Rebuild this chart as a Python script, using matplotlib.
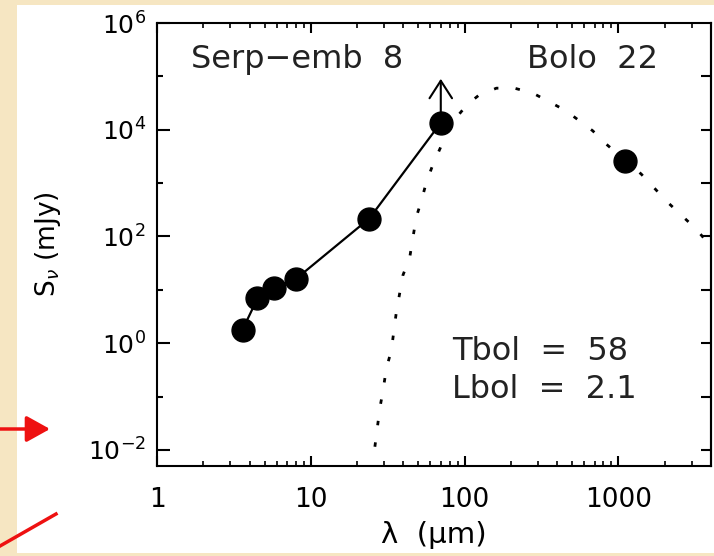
import math
import matplotlib
matplotlib.use("Agg")
import matplotlib.pyplot as plt
from matplotlib.patches import Rectangle, FancyArrowPatch
from matplotlib.ticker import FixedLocator, LogLocator, NullFormatter, FuncFormatter

plt.rcParams['font.family'] = ['DejaVu Sans']
plt.rcParams['mathtext.fontset'] = 'dejavusans'

# photometry (micron, mJy)
phot_wave = [3.6, 4.5, 5.8, 8.0, 24.0, 70.0]
phot_flux = [1.8, 6.9, 11.0, 16.0, 217.0, 13500.0]
# 1.1 mm bolocam point
bolo_wave = [1100.0]
bolo_flux = [2640.0]
# lower-limit arrow at 70 micron
limit_wave = 70.0
limit_top = 9.0e4

# greybody fit to the mm point
fit_wave = [26.1, 28.1, 29.5, 31.0, 33.4, 36.0, 37.8, 39.7, 44.0, 48.5, 52.4,
            56.4, 62.2, 69.5, 78.0, 90.4, 103.5, 123.0, 161.0, 211.0, 278.0,
            356.0, 457.0, 681.0, 832.0, 1403.0, 2089.0, 3192.0, 3707.0, 4000.0]
fit_flux = [0.0115, 0.060, 0.132, 0.336, 0.74, 3.85, 8.5, 18.7, 41.0, 230.0,
            471.0, 1035.0, 2218.0, 4550.0, 10000.0, 18300.0, 29300.0, 43700.0,
            60100.0, 60100.0, 48500.0, 33300.0, 22600.0, 9550.0, 5400.0,
            1490.0, 438.0, 139.0, 84.0, 72.0]

fig = plt.figure(figsize=(7.14, 5.56), dpi=100)
fig.patch.set_facecolor('#f6e6c2')
fig.patches.append(Rectangle((17 / 714, 3 / 556), (714 - 17) / 714, (553 - 5) / 556,
                             transform=fig.transFigure, facecolor='white',
                             edgecolor='none', zorder=-10))

ax = fig.add_axes([157 / 714, 1 - 466 / 556, (711 - 157) / 714, (466 - 23) / 556])
ax.set_xscale('log')
ax.set_yscale('log')
ax.set_xlim(1, 4000)
ax.set_ylim(10 ** -2.3, 1e6)

ax.plot(fit_wave, fit_flux, color='black', lw=2.0, linestyle=(0, (1.6, 6.2)),
        dash_capstyle='butt', zorder=2)
ax.plot(phot_wave, phot_flux, color='black', lw=1.6, marker='o', ms=16.5,
        zorder=3)
ax.plot(bolo_wave, bolo_flux, linestyle='none', color='black', marker='o',
        ms=16.5, zorder=3)
ax.annotate('', xy=(limit_wave, limit_top), xytext=(limit_wave, phot_flux[-1]),
            arrowprops=dict(arrowstyle='->,head_length=0.7,head_width=0.45',
                            lw=1.5, color='black', mutation_scale=18,
                            shrinkA=0, shrinkB=0), zorder=4)

for s in ax.spines.values():
    s.set_linewidth(1.5)

# y axis: labels every two decades
ax.yaxis.set_major_locator(FixedLocator([1e-2, 1e0, 1e2, 1e4, 1e6]))
ax.yaxis.set_minor_locator(FixedLocator([1e-1, 1e1, 1e3, 1e5]))
ax.yaxis.set_major_formatter(FuncFormatter(
    lambda v, p: r'$\mathregular{10^{%d}}$' % round(math.log10(v))))
ax.yaxis.set_minor_formatter(NullFormatter())
ax.tick_params(axis='y', which='major', direction='in', length=9, width=1.5,
               labelsize=18, pad=8, right=False)
ax.tick_params(axis='y', which='minor', direction='in', length=4.5, width=1.5,
               right=False)

right = ax.secondary_yaxis('right')
right.set_yticks([1e-2, 1e-1, 1e0, 1e1, 1e2, 1e3, 1e4, 1e5])
right.yaxis.set_minor_locator(FixedLocator([]))
right.tick_params(direction='in', length=7, width=1.5, labelright=False)
right.spines['right'].set_linewidth(1.5)

# x axis
ax.xaxis.set_major_locator(FixedLocator([1, 10, 100, 1000]))
ax.xaxis.set_minor_locator(LogLocator(base=10, subs=range(2, 10)))
ax.xaxis.set_minor_formatter(NullFormatter())
ax.xaxis.set_major_formatter(FuncFormatter(lambda v, p: '%d' % v))
ax.tick_params(axis='x', which='major', direction='in', length=7, width=1.5,
               labelsize=19, pad=15, top=True)
ax.tick_params(axis='x', which='minor', direction='in', length=3.5, width=1.2,
               top=True)

ax.set_xlabel('\u03bb  (\u03bcm)', fontsize=21, labelpad=6)
ax.set_ylabel(r'S$_\nu$ (mJy)', fontsize=19, labelpad=18)

ax.text(0.062, 0.898, 'Serp\u2212emb  8', transform=ax.transAxes, fontsize=23,
        color='#222222', va='baseline')
ax.text(0.667, 0.898, 'Bolo  22', transform=ax.transAxes, fontsize=23,
        color='#222222', va='baseline')
ax.text(0.532, 0.239, 'Tbol  =  58', transform=ax.transAxes,
        fontsize=23, color='#222222', va='baseline')
ax.text(0.532, 0.153, 'Lbol  =  2.1', transform=ax.transAxes,
        fontsize=23, color='#222222', va='baseline')

# red pointer marks at the left edge
fig.add_artist(FancyArrowPatch((0, 1 - 429 / 556), (50 / 714, 1 - 429 / 556),
                               transform=fig.transFigure, color='#ee1111',
                               lw=2.5, arrowstyle='-|>,head_length=0.9,head_width=0.5',
                               mutation_scale=16, shrinkA=0, shrinkB=0))
fig.add_artist(plt.Line2D([0, 56 / 714], [1 - 546 / 556, 1 - 514 / 556],
                          transform=fig.transFigure, color='#ee1111', lw=2.5))

fig.savefig('out.png', dpi=100, facecolor=fig.get_facecolor())
